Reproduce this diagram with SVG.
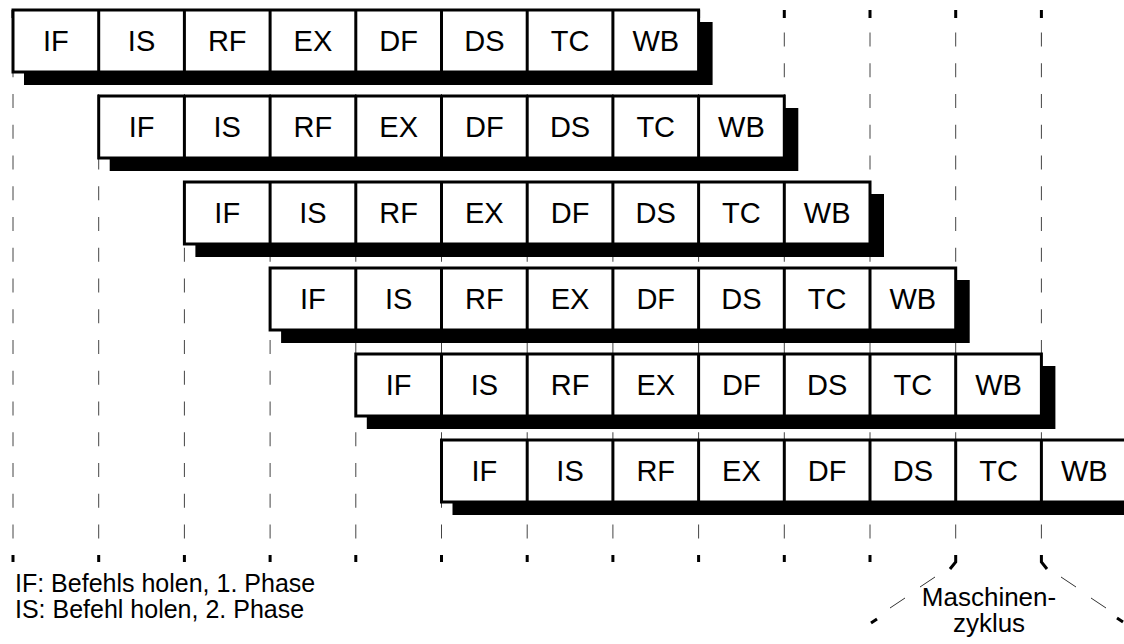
<svg xmlns="http://www.w3.org/2000/svg" width="1124" height="644" viewBox="0 0 1124 644">
<style>
.box{fill:#fff;stroke:#000;stroke-width:3}
.sh{fill:#000}
.div{stroke:#000;stroke-width:3}
.t{font-family:"Liberation Sans",Arial,sans-serif;font-size:29px;fill:#000;text-anchor:middle}
.m{font-family:"Liberation Sans",Arial,sans-serif;font-size:26px;fill:#000;text-anchor:middle}
.lg{font-family:"Liberation Sans",Arial,sans-serif;font-size:25px;fill:#000}
.thin{stroke:#333;stroke-width:1;fill:none}
.grid{stroke:#444;stroke-width:1;stroke-dasharray:14 16.75}
.tick{stroke:#000;stroke-width:3;fill:none}
</style>
<rect width="1124" height="644" fill="#fff"/>
<g id="grid">
<path class="grid" d="M13,32.5V539M98.7,32.5V539M184.4,32.5V539M270.1,32.5V539M355.8,32.5V539M441.5,32.5V539M527.2,32.5V539M612.9,32.5V539M698.6,32.5V539M784.3,32.5V539M870,32.5V539M955.7,32.5V539M1041.4,32.5V539"/>
<path class="tick" d="M13,10V18M98.7,10V18M184.4,10V18M270.1,10V18M355.8,10V18M441.5,10V18M527.2,10V18M612.9,10V18M698.6,10V18M784.3,10V18M870,10V18M955.7,10V18M1041.4,10V18"/>
<path class="tick" d="M13,555V562M98.7,555V562M184.4,555V562M270.1,555V562M355.8,555V562M441.5,555V562M527.2,555V562M612.9,555V562M698.6,555V562M784.3,555V562M870,555V562"/>
</g>
<g id="row1">
<rect class="sh" x="24" y="22" width="688.6" height="63"/>
<rect class="box" x="13" y="10" width="685.6" height="62"/>
<path class="div" d="M98.7,10V72M184.4,10V72M270.1,10V72M355.8,10V72M441.5,10V72M527.2,10V72M612.9,10V72"/>
<text class="t" x="55.85" y="51">IF</text><text class="t" x="141.55" y="51">IS</text><text class="t" x="227.25" y="51">RF</text><text class="t" x="312.95" y="51">EX</text><text class="t" x="398.65" y="51">DF</text><text class="t" x="484.35" y="51">DS</text><text class="t" x="570.05" y="51">TC</text><text class="t" x="655.75" y="51">WB</text>
</g>
<g id="row2">
<rect class="sh" x="109.7" y="108" width="688.6" height="63"/>
<rect class="box" x="98.7" y="96" width="685.6" height="62"/>
<path class="div" d="M184.4,96V158M270.1,96V158M355.8,96V158M441.5,96V158M527.2,96V158M612.9,96V158M698.6,96V158"/>
<text class="t" x="141.55" y="137">IF</text><text class="t" x="227.25" y="137">IS</text><text class="t" x="312.95" y="137">RF</text><text class="t" x="398.65" y="137">EX</text><text class="t" x="484.35" y="137">DF</text><text class="t" x="570.05" y="137">DS</text><text class="t" x="655.75" y="137">TC</text><text class="t" x="741.45" y="137">WB</text>
</g>
<g id="row3">
<rect class="sh" x="195.4" y="194" width="688.6" height="63"/>
<rect class="box" x="184.4" y="182" width="685.6" height="62"/>
<path class="div" d="M270.1,182V244M355.8,182V244M441.5,182V244M527.2,182V244M612.9,182V244M698.6,182V244M784.3,182V244"/>
<text class="t" x="227.25" y="223">IF</text><text class="t" x="312.95" y="223">IS</text><text class="t" x="398.65" y="223">RF</text><text class="t" x="484.35" y="223">EX</text><text class="t" x="570.05" y="223">DF</text><text class="t" x="655.75" y="223">DS</text><text class="t" x="741.45" y="223">TC</text><text class="t" x="827.15" y="223">WB</text>
</g>
<g id="row4">
<rect class="sh" x="281.1" y="280" width="688.6" height="63"/>
<rect class="box" x="270.1" y="268" width="685.6" height="62"/>
<path class="div" d="M355.8,268V330M441.5,268V330M527.2,268V330M612.9,268V330M698.6,268V330M784.3,268V330M870,268V330"/>
<text class="t" x="312.95" y="309">IF</text><text class="t" x="398.65" y="309">IS</text><text class="t" x="484.35" y="309">RF</text><text class="t" x="570.05" y="309">EX</text><text class="t" x="655.75" y="309">DF</text><text class="t" x="741.45" y="309">DS</text><text class="t" x="827.15" y="309">TC</text><text class="t" x="912.85" y="309">WB</text>
</g>
<g id="row5">
<rect class="sh" x="366.8" y="366" width="688.6" height="63"/>
<rect class="box" x="355.8" y="354" width="685.6" height="62"/>
<path class="div" d="M441.5,354V416M527.2,354V416M612.9,354V416M698.6,354V416M784.3,354V416M870,354V416M955.7,354V416"/>
<text class="t" x="398.65" y="395">IF</text><text class="t" x="484.35" y="395">IS</text><text class="t" x="570.05" y="395">RF</text><text class="t" x="655.75" y="395">EX</text><text class="t" x="741.45" y="395">DF</text><text class="t" x="827.15" y="395">DS</text><text class="t" x="912.85" y="395">TC</text><text class="t" x="998.55" y="395">WB</text>
</g>
<g id="row6">
<rect class="sh" x="452.5" y="452" width="688.6" height="63"/>
<rect class="box" x="441.5" y="440" width="685.6" height="62"/>
<path class="div" d="M527.2,440V502M612.9,440V502M698.6,440V502M784.3,440V502M870,440V502M955.7,440V502M1041.4,440V502"/>
<text class="t" x="484.35" y="481">IF</text><text class="t" x="570.05" y="481">IS</text><text class="t" x="655.75" y="481">RF</text><text class="t" x="741.45" y="481">EX</text><text class="t" x="827.15" y="481">DF</text><text class="t" x="912.85" y="481">DS</text><text class="t" x="998.55" y="481">TC</text><text class="t" x="1084.25" y="481">WB</text>
</g>
<g id="legend">
<text class="lg" x="15" y="592">IF: Befehls holen, 1. Phase</text>
<text class="lg" x="15" y="618">IS: Befehl holen, 2. Phase</text>
</g>
<g id="cycle">
<path class="tick" d="M955.7,555V562L950,569M1041.4,555V562L1047,569M877,619L871,623M1117,618L1123,622"/>
<path class="thin" d="M935,577L920,587M905,598L890,608M1061,577L1076,587M1091,598L1106,608"/>
<text class="m" x="989" y="606">Maschinen-</text>
<text class="m" x="989" y="632">zyklus</text>
</g>
</svg>
